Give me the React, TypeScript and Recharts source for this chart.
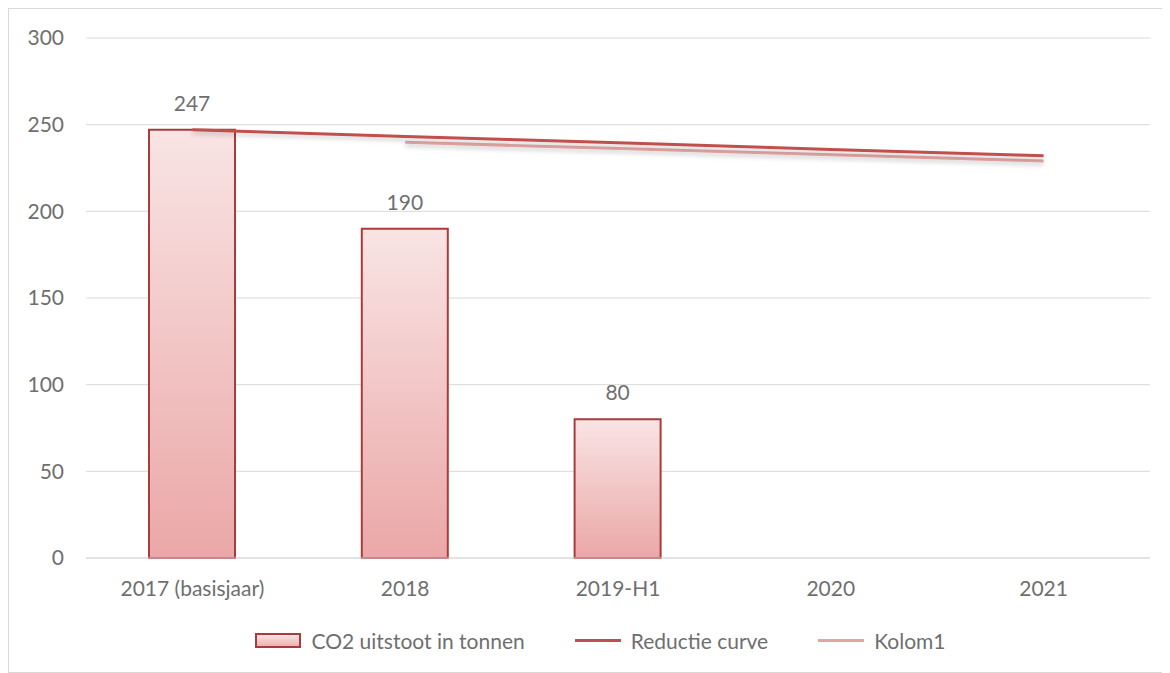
import { Bar, ComposedChart, CartesianGrid, LabelList, Legend, Line, XAxis, YAxis } from 'recharts';

const categories = ['2017 (basisjaar)', '2018', '2019-H1', '2020', '2021'];
const co2Uitstoot = [247, 190, 80, null, null];
const reductieCurve = [247, 243.2, 239.5, 235.7, 232];
const kolom1 = [null, 239.8, 236.2, 232.6, 229];
const yTicks = [0, 50, 100, 150, 200, 250, 300];

const data = categories.map((name, i) => ({
  name,
  co2: co2Uitstoot[i],
  reductie: reductieCurve[i],
  kolom1: kolom1[i],
}));

const font = 'Lato, "Open Sans", sans-serif';
const textColor = '#6f6f6f';
const barStroke = '#a93c3a';
const redLine = '#c0504d';
const pinkLine = '#e3a5a4';

function LegendContent() {
  const item = { display: 'flex', alignItems: 'center', gap: 10 } as const;
  return (
    <div
      style={{
        display: 'flex',
        justifyContent: 'center',
        gap: 50,
        fontFamily: font,
        fontSize: 21,
        color: textColor,
        paddingLeft: 42,
      }}
    >
      <div style={item}>
        <span
          style={{
            width: 46,
            height: 15,
            border: `2px solid ${barStroke}`,
            boxSizing: 'border-box',
            background: 'linear-gradient(#f9e3e3, #eeb1b1)',
          }}
        />
        <span>CO2 uitstoot in tonnen</span>
      </div>
      <div style={item}>
        <span style={{ width: 46, height: 3, background: redLine }} />
        <span>Reductie curve</span>
      </div>
      <div style={item}>
        <span style={{ width: 46, height: 3, background: pinkLine }} />
        <span>Kolom1</span>
      </div>
    </div>
  );
}

export default function App() {
  return (
    <div
      style={{
        width: 1161,
        height: 665,
        border: '1px solid #d9d9d9',
        boxSizing: 'border-box',
        background: '#fff',
      }}
    >
      <ComposedChart
        width={1159}
        height={663}
        data={data}
        margin={{ top: 29, right: 18, left: 0, bottom: 16 }}
      >
        <defs>
          <linearGradient id="barFill" x1="0" y1="0" x2="0" y2="1">
            <stop offset="0%" stopColor="#f9e4e4" />
            <stop offset="100%" stopColor="#eba7a7" />
          </linearGradient>
          <filter id="softShadow" x="-5%" y="-50%" width="110%" height="300%">
            <feDropShadow dx="0" dy="3" stdDeviation="2" floodColor="#000" floodOpacity="0.18" />
          </filter>
        </defs>
        <CartesianGrid stroke="#d9d9d9" vertical={false} />
        <XAxis
          dataKey="name"
          height={70}
          tickSize={0}
          tickMargin={23}
          axisLine={{ stroke: '#d9d9d9' }}
          tickLine={false}
          tick={{ fontSize: 21, fill: textColor, fontFamily: font }}
        />
        <YAxis
          domain={[0, 300]}
          ticks={yTicks}
          width={77}
          tickSize={0}
          tickMargin={22}
          axisLine={false}
          tickLine={false}
          tick={{ fontSize: 21, fill: textColor, fontFamily: font }}
        />
        <Legend verticalAlign="bottom" height={28} content={<LegendContent />} />
        <Bar
          dataKey="co2"
          barSize={86}
          fill="url(#barFill)"
          stroke={barStroke}
          strokeWidth={2}
          isAnimationActive={false}
        >
          <LabelList
            dataKey="co2"
            position="top"
            offset={19}
            style={{ fontSize: 21, fill: textColor, fontFamily: font }}
          />
        </Bar>
        <Line
          dataKey="kolom1"
          stroke={pinkLine}
          strokeWidth={3}
          dot={false}
          activeDot={false}
          filter="url(#softShadow)"
          isAnimationActive={false}
        />
        <Line
          dataKey="reductie"
          stroke={redLine}
          strokeWidth={3}
          dot={false}
          activeDot={false}
          filter="url(#softShadow)"
          isAnimationActive={false}
        />
      </ComposedChart>
    </div>
  );
}
